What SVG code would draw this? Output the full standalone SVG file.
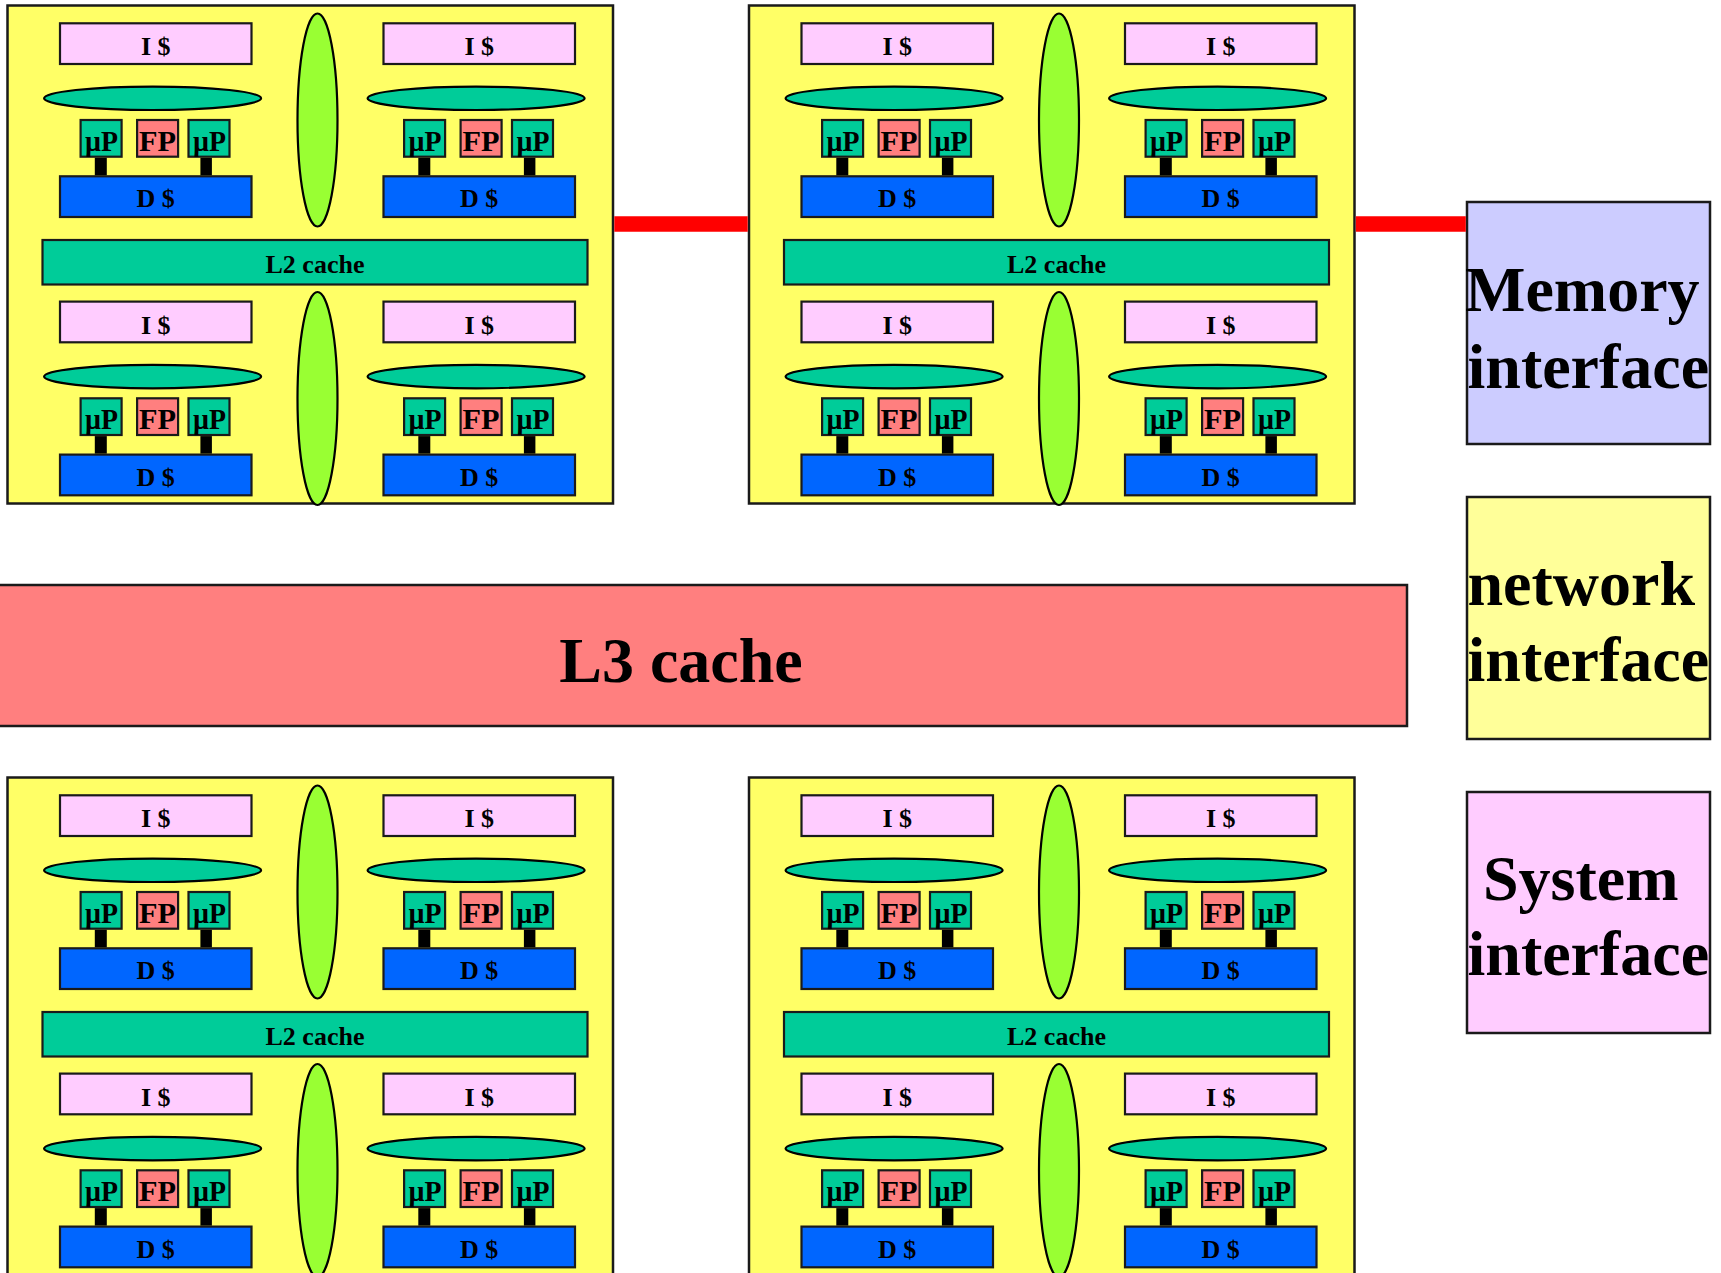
<svg xmlns="http://www.w3.org/2000/svg" width="1721" height="1273" viewBox="0 0 1721 1273">
<style>
.clu{fill:#FFFF66;stroke:#1a1a1a;stroke-width:2.5}
.ic{fill:#FFCCFF;stroke:#1a1a1a;stroke-width:2.2}
.dc{fill:#0066FF;stroke:#1a1a1a;stroke-width:2.2}
.bus{fill:#00CC99;stroke:#000;stroke-width:2.2}
.up{fill:#00CC99;stroke:#1a1a1a;stroke-width:2.2}
.fp{fill:#FF7F7F;stroke:#1a1a1a;stroke-width:2.2}
.xb{fill:#99FF33;stroke:#000;stroke-width:2.2}
.l2{fill:#00CC99;stroke:#1a1a1a;stroke-width:2.2}
.stem{fill:#000}
.t{font-family:"Liberation Serif","Times New Roman",serif;font-weight:bold;font-size:26px;fill:#000;text-anchor:middle}
.p{font-family:"Liberation Serif","Times New Roman",serif;font-weight:bold;font-size:30px;fill:#000;text-anchor:middle}
.big{font-family:"Liberation Serif","Times New Roman",serif;font-weight:bold;font-size:64px;fill:#000}
.red{stroke:#FF0000;stroke-width:15.5}
</style>
<rect x="0" y="0" width="1721" height="1273" fill="#FFFFFF"/>

<!-- Cluster top-left -->
<g id="cluster-tl">
<rect class="clu" x="7.5" y="5.5" width="605.5" height="498"/>
<ellipse class="xb" cx="317.5" cy="120" rx="20" ry="106.5"/>
<ellipse class="xb" cx="317.5" cy="398.5" rx="20" ry="106.5"/>
<g id="tl-l2"><rect class="l2" x="42.5" y="240" width="545" height="44.5"/><text class="t" x="315" y="273">L2 cache</text></g>
<g id="tl-core1" transform="translate(60,23.3)">
<rect class="ic" x="0" y="0" width="191.5" height="40.7"/><text class="t" x="95.7" y="32">I $</text>
<ellipse class="bus" cx="92.6" cy="75" rx="108.5" ry="11.7"/>
<rect class="up" x="20.6" y="96.7" width="41" height="36.7"/><text class="p" x="41.6" y="127.5" textLength="33" lengthAdjust="spacingAndGlyphs">µP</text>
<rect class="fp" x="77.1" y="96.7" width="41" height="36.7"/><text class="p" x="97.6" y="127.5" textLength="37" lengthAdjust="spacingAndGlyphs">FP</text>
<rect class="up" x="128.5" y="96.7" width="41" height="36.7"/><text class="p" x="149.5" y="127.5" textLength="33" lengthAdjust="spacingAndGlyphs">µP</text>
<rect class="dc" x="0" y="153" width="191.5" height="40.7"/><text class="t" x="95.7" y="184">D $</text>
</g>
<g id="tl-core2" transform="translate(383.5,23.3)">
<rect class="ic" x="0" y="0" width="191.5" height="40.7"/><text class="t" x="95.7" y="32">I $</text>
<ellipse class="bus" cx="92.6" cy="75" rx="108.5" ry="11.7"/>
<rect class="up" x="20.6" y="96.7" width="41" height="36.7"/><text class="p" x="41.6" y="127.5" textLength="33" lengthAdjust="spacingAndGlyphs">µP</text>
<rect class="fp" x="77.1" y="96.7" width="41" height="36.7"/><text class="p" x="97.6" y="127.5" textLength="37" lengthAdjust="spacingAndGlyphs">FP</text>
<rect class="up" x="128.5" y="96.7" width="41" height="36.7"/><text class="p" x="149.5" y="127.5" textLength="33" lengthAdjust="spacingAndGlyphs">µP</text>
<rect class="dc" x="0" y="153" width="191.5" height="40.7"/><text class="t" x="95.7" y="184">D $</text>
</g>
<g id="tl-core3" transform="translate(60,301.6)">
<rect class="ic" x="0" y="0" width="191.5" height="40.7"/><text class="t" x="95.7" y="32">I $</text>
<ellipse class="bus" cx="92.6" cy="75" rx="108.5" ry="11.7"/>
<rect class="up" x="20.6" y="96.7" width="41" height="36.7"/><text class="p" x="41.6" y="127.5" textLength="33" lengthAdjust="spacingAndGlyphs">µP</text>
<rect class="fp" x="77.1" y="96.7" width="41" height="36.7"/><text class="p" x="97.6" y="127.5" textLength="37" lengthAdjust="spacingAndGlyphs">FP</text>
<rect class="up" x="128.5" y="96.7" width="41" height="36.7"/><text class="p" x="149.5" y="127.5" textLength="33" lengthAdjust="spacingAndGlyphs">µP</text>
<rect class="dc" x="0" y="153" width="191.5" height="40.7"/><text class="t" x="95.7" y="184">D $</text>
</g>
<g id="tl-core4" transform="translate(383.5,301.6)">
<rect class="ic" x="0" y="0" width="191.5" height="40.7"/><text class="t" x="95.7" y="32">I $</text>
<ellipse class="bus" cx="92.6" cy="75" rx="108.5" ry="11.7"/>
<rect class="up" x="20.6" y="96.7" width="41" height="36.7"/><text class="p" x="41.6" y="127.5" textLength="33" lengthAdjust="spacingAndGlyphs">µP</text>
<rect class="fp" x="77.1" y="96.7" width="41" height="36.7"/><text class="p" x="97.6" y="127.5" textLength="37" lengthAdjust="spacingAndGlyphs">FP</text>
<rect class="up" x="128.5" y="96.7" width="41" height="36.7"/><text class="p" x="149.5" y="127.5" textLength="33" lengthAdjust="spacingAndGlyphs">µP</text>
<rect class="dc" x="0" y="153" width="191.5" height="40.7"/><text class="t" x="95.7" y="184">D $</text>
</g>
</g>

<!-- Cluster top-right -->
<g id="cluster-tr" transform="translate(741.5,0)">
<rect class="clu" x="7.5" y="5.5" width="605.5" height="498"/>
<ellipse class="xb" cx="317.5" cy="120" rx="20" ry="106.5"/>
<ellipse class="xb" cx="317.5" cy="398.5" rx="20" ry="106.5"/>
<g id="tr-l2"><rect class="l2" x="42.5" y="240" width="545" height="44.5"/><text class="t" x="315" y="273">L2 cache</text></g>
<g id="tr-core1" transform="translate(60,23.3)">
<rect class="ic" x="0" y="0" width="191.5" height="40.7"/><text class="t" x="95.7" y="32">I $</text>
<ellipse class="bus" cx="92.6" cy="75" rx="108.5" ry="11.7"/>
<rect class="up" x="20.6" y="96.7" width="41" height="36.7"/><text class="p" x="41.6" y="127.5" textLength="33" lengthAdjust="spacingAndGlyphs">µP</text>
<rect class="fp" x="77.1" y="96.7" width="41" height="36.7"/><text class="p" x="97.6" y="127.5" textLength="37" lengthAdjust="spacingAndGlyphs">FP</text>
<rect class="up" x="128.5" y="96.7" width="41" height="36.7"/><text class="p" x="149.5" y="127.5" textLength="33" lengthAdjust="spacingAndGlyphs">µP</text>
<rect class="dc" x="0" y="153" width="191.5" height="40.7"/><text class="t" x="95.7" y="184">D $</text>
</g>
<g id="tr-core2" transform="translate(383.5,23.3)">
<rect class="ic" x="0" y="0" width="191.5" height="40.7"/><text class="t" x="95.7" y="32">I $</text>
<ellipse class="bus" cx="92.6" cy="75" rx="108.5" ry="11.7"/>
<rect class="up" x="20.6" y="96.7" width="41" height="36.7"/><text class="p" x="41.6" y="127.5" textLength="33" lengthAdjust="spacingAndGlyphs">µP</text>
<rect class="fp" x="77.1" y="96.7" width="41" height="36.7"/><text class="p" x="97.6" y="127.5" textLength="37" lengthAdjust="spacingAndGlyphs">FP</text>
<rect class="up" x="128.5" y="96.7" width="41" height="36.7"/><text class="p" x="149.5" y="127.5" textLength="33" lengthAdjust="spacingAndGlyphs">µP</text>
<rect class="dc" x="0" y="153" width="191.5" height="40.7"/><text class="t" x="95.7" y="184">D $</text>
</g>
<g id="tr-core3" transform="translate(60,301.6)">
<rect class="ic" x="0" y="0" width="191.5" height="40.7"/><text class="t" x="95.7" y="32">I $</text>
<ellipse class="bus" cx="92.6" cy="75" rx="108.5" ry="11.7"/>
<rect class="up" x="20.6" y="96.7" width="41" height="36.7"/><text class="p" x="41.6" y="127.5" textLength="33" lengthAdjust="spacingAndGlyphs">µP</text>
<rect class="fp" x="77.1" y="96.7" width="41" height="36.7"/><text class="p" x="97.6" y="127.5" textLength="37" lengthAdjust="spacingAndGlyphs">FP</text>
<rect class="up" x="128.5" y="96.7" width="41" height="36.7"/><text class="p" x="149.5" y="127.5" textLength="33" lengthAdjust="spacingAndGlyphs">µP</text>
<rect class="dc" x="0" y="153" width="191.5" height="40.7"/><text class="t" x="95.7" y="184">D $</text>
</g>
<g id="tr-core4" transform="translate(383.5,301.6)">
<rect class="ic" x="0" y="0" width="191.5" height="40.7"/><text class="t" x="95.7" y="32">I $</text>
<ellipse class="bus" cx="92.6" cy="75" rx="108.5" ry="11.7"/>
<rect class="up" x="20.6" y="96.7" width="41" height="36.7"/><text class="p" x="41.6" y="127.5" textLength="33" lengthAdjust="spacingAndGlyphs">µP</text>
<rect class="fp" x="77.1" y="96.7" width="41" height="36.7"/><text class="p" x="97.6" y="127.5" textLength="37" lengthAdjust="spacingAndGlyphs">FP</text>
<rect class="up" x="128.5" y="96.7" width="41" height="36.7"/><text class="p" x="149.5" y="127.5" textLength="33" lengthAdjust="spacingAndGlyphs">µP</text>
<rect class="dc" x="0" y="153" width="191.5" height="40.7"/><text class="t" x="95.7" y="184">D $</text>
</g>
</g>

<!-- Cluster bottom-left -->
<g id="cluster-bl" transform="translate(0,772)">
<rect class="clu" x="7.5" y="5.5" width="605.5" height="498"/>
<ellipse class="xb" cx="317.5" cy="120" rx="20" ry="106.5"/>
<ellipse class="xb" cx="317.5" cy="398.5" rx="20" ry="106.5"/>
<g id="bl-l2"><rect class="l2" x="42.5" y="240" width="545" height="44.5"/><text class="t" x="315" y="273">L2 cache</text></g>
<g id="bl-core1" transform="translate(60,23.3)">
<rect class="ic" x="0" y="0" width="191.5" height="40.7"/><text class="t" x="95.7" y="32">I $</text>
<ellipse class="bus" cx="92.6" cy="75" rx="108.5" ry="11.7"/>
<rect class="up" x="20.6" y="96.7" width="41" height="36.7"/><text class="p" x="41.6" y="127.5" textLength="33" lengthAdjust="spacingAndGlyphs">µP</text>
<rect class="fp" x="77.1" y="96.7" width="41" height="36.7"/><text class="p" x="97.6" y="127.5" textLength="37" lengthAdjust="spacingAndGlyphs">FP</text>
<rect class="up" x="128.5" y="96.7" width="41" height="36.7"/><text class="p" x="149.5" y="127.5" textLength="33" lengthAdjust="spacingAndGlyphs">µP</text>
<rect class="dc" x="0" y="153" width="191.5" height="40.7"/><text class="t" x="95.7" y="184">D $</text>
</g>
<g id="bl-core2" transform="translate(383.5,23.3)">
<rect class="ic" x="0" y="0" width="191.5" height="40.7"/><text class="t" x="95.7" y="32">I $</text>
<ellipse class="bus" cx="92.6" cy="75" rx="108.5" ry="11.7"/>
<rect class="up" x="20.6" y="96.7" width="41" height="36.7"/><text class="p" x="41.6" y="127.5" textLength="33" lengthAdjust="spacingAndGlyphs">µP</text>
<rect class="fp" x="77.1" y="96.7" width="41" height="36.7"/><text class="p" x="97.6" y="127.5" textLength="37" lengthAdjust="spacingAndGlyphs">FP</text>
<rect class="up" x="128.5" y="96.7" width="41" height="36.7"/><text class="p" x="149.5" y="127.5" textLength="33" lengthAdjust="spacingAndGlyphs">µP</text>
<rect class="dc" x="0" y="153" width="191.5" height="40.7"/><text class="t" x="95.7" y="184">D $</text>
</g>
<g id="bl-core3" transform="translate(60,301.6)">
<rect class="ic" x="0" y="0" width="191.5" height="40.7"/><text class="t" x="95.7" y="32">I $</text>
<ellipse class="bus" cx="92.6" cy="75" rx="108.5" ry="11.7"/>
<rect class="up" x="20.6" y="96.7" width="41" height="36.7"/><text class="p" x="41.6" y="127.5" textLength="33" lengthAdjust="spacingAndGlyphs">µP</text>
<rect class="fp" x="77.1" y="96.7" width="41" height="36.7"/><text class="p" x="97.6" y="127.5" textLength="37" lengthAdjust="spacingAndGlyphs">FP</text>
<rect class="up" x="128.5" y="96.7" width="41" height="36.7"/><text class="p" x="149.5" y="127.5" textLength="33" lengthAdjust="spacingAndGlyphs">µP</text>
<rect class="dc" x="0" y="153" width="191.5" height="40.7"/><text class="t" x="95.7" y="184">D $</text>
</g>
<g id="bl-core4" transform="translate(383.5,301.6)">
<rect class="ic" x="0" y="0" width="191.5" height="40.7"/><text class="t" x="95.7" y="32">I $</text>
<ellipse class="bus" cx="92.6" cy="75" rx="108.5" ry="11.7"/>
<rect class="up" x="20.6" y="96.7" width="41" height="36.7"/><text class="p" x="41.6" y="127.5" textLength="33" lengthAdjust="spacingAndGlyphs">µP</text>
<rect class="fp" x="77.1" y="96.7" width="41" height="36.7"/><text class="p" x="97.6" y="127.5" textLength="37" lengthAdjust="spacingAndGlyphs">FP</text>
<rect class="up" x="128.5" y="96.7" width="41" height="36.7"/><text class="p" x="149.5" y="127.5" textLength="33" lengthAdjust="spacingAndGlyphs">µP</text>
<rect class="dc" x="0" y="153" width="191.5" height="40.7"/><text class="t" x="95.7" y="184">D $</text>
</g>
</g>

<!-- Cluster bottom-right -->
<g id="cluster-br" transform="translate(741.5,772)">
<rect class="clu" x="7.5" y="5.5" width="605.5" height="498"/>
<ellipse class="xb" cx="317.5" cy="120" rx="20" ry="106.5"/>
<ellipse class="xb" cx="317.5" cy="398.5" rx="20" ry="106.5"/>
<g id="br-l2"><rect class="l2" x="42.5" y="240" width="545" height="44.5"/><text class="t" x="315" y="273">L2 cache</text></g>
<g id="br-core1" transform="translate(60,23.3)">
<rect class="ic" x="0" y="0" width="191.5" height="40.7"/><text class="t" x="95.7" y="32">I $</text>
<ellipse class="bus" cx="92.6" cy="75" rx="108.5" ry="11.7"/>
<rect class="up" x="20.6" y="96.7" width="41" height="36.7"/><text class="p" x="41.6" y="127.5" textLength="33" lengthAdjust="spacingAndGlyphs">µP</text>
<rect class="fp" x="77.1" y="96.7" width="41" height="36.7"/><text class="p" x="97.6" y="127.5" textLength="37" lengthAdjust="spacingAndGlyphs">FP</text>
<rect class="up" x="128.5" y="96.7" width="41" height="36.7"/><text class="p" x="149.5" y="127.5" textLength="33" lengthAdjust="spacingAndGlyphs">µP</text>
<rect class="dc" x="0" y="153" width="191.5" height="40.7"/><text class="t" x="95.7" y="184">D $</text>
</g>
<g id="br-core2" transform="translate(383.5,23.3)">
<rect class="ic" x="0" y="0" width="191.5" height="40.7"/><text class="t" x="95.7" y="32">I $</text>
<ellipse class="bus" cx="92.6" cy="75" rx="108.5" ry="11.7"/>
<rect class="up" x="20.6" y="96.7" width="41" height="36.7"/><text class="p" x="41.6" y="127.5" textLength="33" lengthAdjust="spacingAndGlyphs">µP</text>
<rect class="fp" x="77.1" y="96.7" width="41" height="36.7"/><text class="p" x="97.6" y="127.5" textLength="37" lengthAdjust="spacingAndGlyphs">FP</text>
<rect class="up" x="128.5" y="96.7" width="41" height="36.7"/><text class="p" x="149.5" y="127.5" textLength="33" lengthAdjust="spacingAndGlyphs">µP</text>
<rect class="dc" x="0" y="153" width="191.5" height="40.7"/><text class="t" x="95.7" y="184">D $</text>
</g>
<g id="br-core3" transform="translate(60,301.6)">
<rect class="ic" x="0" y="0" width="191.5" height="40.7"/><text class="t" x="95.7" y="32">I $</text>
<ellipse class="bus" cx="92.6" cy="75" rx="108.5" ry="11.7"/>
<rect class="up" x="20.6" y="96.7" width="41" height="36.7"/><text class="p" x="41.6" y="127.5" textLength="33" lengthAdjust="spacingAndGlyphs">µP</text>
<rect class="fp" x="77.1" y="96.7" width="41" height="36.7"/><text class="p" x="97.6" y="127.5" textLength="37" lengthAdjust="spacingAndGlyphs">FP</text>
<rect class="up" x="128.5" y="96.7" width="41" height="36.7"/><text class="p" x="149.5" y="127.5" textLength="33" lengthAdjust="spacingAndGlyphs">µP</text>
<rect class="dc" x="0" y="153" width="191.5" height="40.7"/><text class="t" x="95.7" y="184">D $</text>
</g>
<g id="br-core4" transform="translate(383.5,301.6)">
<rect class="ic" x="0" y="0" width="191.5" height="40.7"/><text class="t" x="95.7" y="32">I $</text>
<ellipse class="bus" cx="92.6" cy="75" rx="108.5" ry="11.7"/>
<rect class="up" x="20.6" y="96.7" width="41" height="36.7"/><text class="p" x="41.6" y="127.5" textLength="33" lengthAdjust="spacingAndGlyphs">µP</text>
<rect class="fp" x="77.1" y="96.7" width="41" height="36.7"/><text class="p" x="97.6" y="127.5" textLength="37" lengthAdjust="spacingAndGlyphs">FP</text>
<rect class="up" x="128.5" y="96.7" width="41" height="36.7"/><text class="p" x="149.5" y="127.5" textLength="33" lengthAdjust="spacingAndGlyphs">µP</text>
<rect class="dc" x="0" y="153" width="191.5" height="40.7"/><text class="t" x="95.7" y="184">D $</text>
</g>
</g>

<!-- L3 cache -->
<g id="l3-cache">
<rect x="-3" y="585" width="1410" height="141" fill="#FF7F7F" stroke="#1a1a1a" stroke-width="2.5"/>
<text class="big" x="681" y="681.5" text-anchor="middle">L3 cache</text>
</g>

<!-- Interfaces -->
<g id="memory-interface">
<rect x="1467" y="202" width="243" height="242" fill="#CCCCFF" stroke="#1a1a1a" stroke-width="2.5"/>
<text class="big" x="1465" y="311">Memory</text>
<text class="big" x="1467.5" y="387.5">interface</text>
</g>
<g id="network-interface">
<rect x="1467" y="497" width="243" height="242" fill="#FFFF99" stroke="#1a1a1a" stroke-width="2.5"/>
<text class="big" x="1467.5" y="605">network</text>
<text class="big" x="1467.5" y="680.5">interface</text>
</g>
<g id="system-interface">
<rect x="1467" y="792" width="243" height="241" fill="#FFCCFF" stroke="#1a1a1a" stroke-width="2.5"/>
<text class="big" x="1483" y="900">System</text>
<text class="big" x="1467.5" y="975">interface</text>
</g>

<!-- Connectors -->
<g id="connectors">
<line class="red" x1="614.3" y1="224" x2="747.7" y2="224"/>
<line class="red" x1="1355.8" y1="224" x2="1465.8" y2="224"/>
<g transform="translate(60,23.3)"><rect class="stem" x="34.8" y="134.5" width="12" height="17.5"/><rect class="stem" x="140.4" y="134.5" width="11.5" height="17.5"/></g>
<g transform="translate(383.5,23.3)"><rect class="stem" x="34.8" y="134.5" width="12" height="17.5"/><rect class="stem" x="140.4" y="134.5" width="11.5" height="17.5"/></g>
<g transform="translate(60,301.6)"><rect class="stem" x="34.8" y="134.5" width="12" height="17.5"/><rect class="stem" x="140.4" y="134.5" width="11.5" height="17.5"/></g>
<g transform="translate(383.5,301.6)"><rect class="stem" x="34.8" y="134.5" width="12" height="17.5"/><rect class="stem" x="140.4" y="134.5" width="11.5" height="17.5"/></g>
<g transform="translate(801.5,23.3)"><rect class="stem" x="34.8" y="134.5" width="12" height="17.5"/><rect class="stem" x="140.4" y="134.5" width="11.5" height="17.5"/></g>
<g transform="translate(1125,23.3)"><rect class="stem" x="34.8" y="134.5" width="12" height="17.5"/><rect class="stem" x="140.4" y="134.5" width="11.5" height="17.5"/></g>
<g transform="translate(801.5,301.6)"><rect class="stem" x="34.8" y="134.5" width="12" height="17.5"/><rect class="stem" x="140.4" y="134.5" width="11.5" height="17.5"/></g>
<g transform="translate(1125,301.6)"><rect class="stem" x="34.8" y="134.5" width="12" height="17.5"/><rect class="stem" x="140.4" y="134.5" width="11.5" height="17.5"/></g>
<g transform="translate(60,795.3)"><rect class="stem" x="34.8" y="134.5" width="12" height="17.5"/><rect class="stem" x="140.4" y="134.5" width="11.5" height="17.5"/></g>
<g transform="translate(383.5,795.3)"><rect class="stem" x="34.8" y="134.5" width="12" height="17.5"/><rect class="stem" x="140.4" y="134.5" width="11.5" height="17.5"/></g>
<g transform="translate(60,1073.6)"><rect class="stem" x="34.8" y="134.5" width="12" height="17.5"/><rect class="stem" x="140.4" y="134.5" width="11.5" height="17.5"/></g>
<g transform="translate(383.5,1073.6)"><rect class="stem" x="34.8" y="134.5" width="12" height="17.5"/><rect class="stem" x="140.4" y="134.5" width="11.5" height="17.5"/></g>
<g transform="translate(801.5,795.3)"><rect class="stem" x="34.8" y="134.5" width="12" height="17.5"/><rect class="stem" x="140.4" y="134.5" width="11.5" height="17.5"/></g>
<g transform="translate(1125,795.3)"><rect class="stem" x="34.8" y="134.5" width="12" height="17.5"/><rect class="stem" x="140.4" y="134.5" width="11.5" height="17.5"/></g>
<g transform="translate(801.5,1073.6)"><rect class="stem" x="34.8" y="134.5" width="12" height="17.5"/><rect class="stem" x="140.4" y="134.5" width="11.5" height="17.5"/></g>
<g transform="translate(1125,1073.6)"><rect class="stem" x="34.8" y="134.5" width="12" height="17.5"/><rect class="stem" x="140.4" y="134.5" width="11.5" height="17.5"/></g>
</g>
</svg>
